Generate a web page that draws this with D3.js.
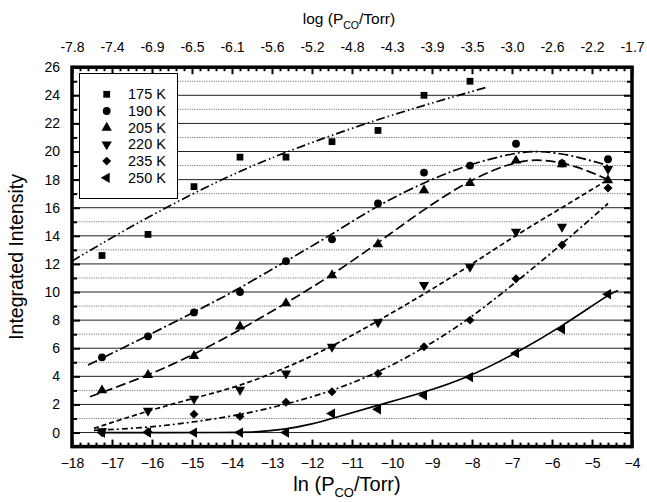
<!DOCTYPE html>
<html>
<head>
<meta charset="utf-8">
<script src="https://cdn.jsdelivr.net/npm/d3@7/dist/d3.min.js"></script>
<style>
  html, body { margin: 0; padding: 0; background: #fff; }
  svg { display: block; font-family: "Liberation Sans", Arial, sans-serif; }
</style>
</head>
<body>
<svg id="chart" width="647" height="502"></svg>
<script>
// ln(P_CO/Torr) at which spectra were recorded
const lnP = [-17.25, -16.1, -14.95, -13.8, -12.65, -11.5, -10.35, -9.2, -8.05, -6.9, -5.75, -4.6];

// integrated intensities per temperature
const k175 = [12.6, 14.1, 17.5, 19.6, 19.6, 20.7, 21.5, 24.0, 25.0];
const k190 = [5.35, 6.85, 8.55, 10.0, 12.2, 13.75, 16.3, 18.5, 19.0, 20.55, 19.15, 19.45];
const k205 = [3.0, 4.1, 5.45, 7.55, 9.2, 11.2, 13.4, 17.25, 17.75, 19.35, 19.1, 17.95];
const k220 = [0.1, 1.55, 2.4, 3.05, 4.2, 6.1, 7.85, 10.5, 11.8, 14.3, 14.65, 18.75];
const k235 = [0.0, 0.05, 1.3, 1.15, 2.15, 2.9, 4.2, 6.1, 8.0, 10.95, 13.35, 17.4];
const k250 = [0.0, 0.0, 0.0, 0.0, 0.0, 1.35, 1.65, 2.65, 3.95, 5.65, 7.35, 9.85];

// fitted curves, [ln P, intensity]
const fit175 = [[-18, 12.2], [-16.7, 14.4], [-15, 17.0], [-13.8, 18.6], [-12.9, 19.7], [-11, 21.7], [-9.2, 23.3], [-7.6, 24.6]];
const fit190 = [[-17.6, 4.8], [-16.1, 6.9], [-15, 8.5], [-14, 9.95], [-12.65, 12.2], [-11.5, 14.1], [-10.35, 16.2], [-9.05, 18.0], [-8.05, 19.1], [-6.9, 19.95], [-6.3, 20.05], [-5.5, 19.75], [-4.6, 19.0]];
const fit205 = [[-17.55, 2.55], [-16.1, 4.05], [-14.95, 5.55], [-13.8, 7.3], [-12.65, 9.2], [-11.5, 11.2], [-10.35, 13.5], [-9.2, 15.9], [-8.05, 18.0], [-6.9, 19.35], [-6.2, 19.45], [-5.4, 19.0], [-4.6, 18.0]];
const fit220 = [[-17.45, 0.3], [-16.1, 1.55], [-14.95, 2.45], [-13.8, 3.3], [-12.65, 4.6], [-11.5, 6.1], [-10.35, 7.95], [-9.1, 10.0], [-8.05, 11.9], [-6.9, 14.05], [-5.75, 16.0], [-4.6, 18.0]];
const fit235 = [[-17.45, 0.15], [-16.1, 0.35], [-14.95, 0.75], [-13.8, 1.25], [-12.65, 2.0], [-11.5, 2.95], [-10.35, 4.25], [-9.2, 6.0], [-8.05, 8.1], [-6.9, 10.7], [-5.75, 13.4], [-4.6, 16.3]];
const fit250 = [[-17.3, 0], [-14.2, 0], [-13.4, 0.03], [-12.7, 0.2], [-12, 0.6], [-11.5, 1.0], [-10.35, 1.95], [-9.2, 2.85], [-8.05, 3.97], [-6.9, 5.65], [-5.75, 7.55], [-4.6, 9.8], [-4.35, 10.1]];

const seriesNames = ["175 K", "190 K", "205 K", "220 K", "235 K", "250 K"];

// axis ticks
const xTicks = [-18, -17, -16, -15, -14, -13, -12, -11, -10, -9, -8, -7, -6, -5, -4];
const topTickLabels = ["-7.8", "-7.4", "-6.9", "-6.5", "-6.1", "-5.6", "-5.2", "-4.8", "-4.3", "-3.9", "-3.5", "-3.0", "-2.6", "-2.2", "-1.7"];
const yTicks = [0, 2, 4, 6, 8, 10, 12, 14, 16, 18, 20, 22, 24, 26];

const svg = d3.select("#chart");
const pLeft = 72, pRight = 632, pTop = 67.2, pBottom = 446.6;
const x = d3.scaleLinear().domain([-18, -4]).range([pLeft, pRight]);
const y = d3.scaleLinear().domain([-1, 26]).range([pBottom, pTop]);

const values = [k175, k190, k205, k220, k235, k250];
const fits = [fit175, fit190, fit205, fit220, fit235, fit250];
const dashes = ["9,3,1.5,3,1.5,3", "10,3,2,3", "10,4", "5,3", "6,3,2,3", null];
const symbols = [
  { type: d3.symbolSquare, size: 46, rot: 0 },
  { type: d3.symbolCircle, size: 48, rot: 0 },
  { type: d3.symbolTriangle, size: 46, rot: 0 },
  { type: d3.symbolTriangle, size: 46, rot: 180 },
  { type: d3.symbolSquare, size: 40, rot: 45 },
  { type: d3.symbolTriangle, size: 46, rot: -90 }
];

// grid: solid at even values, dotted at odd values
const gridVals = d3.range(0, 26);
svg.append("g").selectAll("line").data(gridVals).join("line")
  .attr("x1", pLeft).attr("x2", pRight)
  .attr("y1", d => y(d)).attr("y2", d => y(d))
  .attr("stroke", d => d % 2 === 0 ? "#222" : "#777")
  .attr("stroke-width", 1)
  .attr("stroke-dasharray", d => d % 2 === 0 ? null : "1.2,1.2");

svg.append("defs").append("clipPath").attr("id", "plotclip")
  .append("rect").attr("x", pLeft).attr("y", pTop).attr("width", pRight - pLeft).attr("height", pBottom - pTop);

// fitted curves
const line = d3.line().x(d => x(d[0])).y(d => y(d[1])).curve(d3.curveBasis);
const curves = svg.append("g").attr("clip-path", "url(#plotclip)");
fits.forEach((f, i) => {
  curves.append("path").datum(f)
    .attr("d", line)
    .attr("fill", "none")
    .attr("stroke", "#000")
    .attr("stroke-width", 1.7)
    .attr("stroke-dasharray", dashes[i]);
});

// measured points
const pts = svg.append("g");
values.forEach((vals, i) => {
  const s = symbols[i];
  const sym = d3.symbol().type(s.type).size(s.size);
  pts.selectAll(null).data(vals.map((v, j) => [lnP[j], v])).join("path")
    .attr("d", sym)
    .attr("fill", "#000")
    .attr("transform", d => `translate(${x(d[0])},${y(d[1])}) rotate(${s.rot})`);
});

// axes with inward ticks
const minorX = d3.range(-18, -4.0001, 0.2).filter(v => Math.abs(v - Math.round(v)) > 1e-6);
const axisStyle = g => {
  g.select(".domain").remove();
  g.selectAll(".tick line").attr("stroke", "#000").attr("stroke-width", 2);
  g.selectAll("text").attr("font-size", 14).attr("fill", "#000").attr("font-family", "Liberation Sans, Arial, sans-serif");
};

svg.append("g").attr("transform", `translate(0,${pBottom})`)
  .call(d3.axisBottom(x).tickValues(xTicks).tickSize(-7).tickPadding(11).tickFormat(d3.format("d")))
  .call(axisStyle);
svg.append("g").attr("transform", `translate(0,${pBottom})`)
  .call(d3.axisBottom(x).tickValues(minorX).tickSize(-4).tickFormat(""))
  .call(axisStyle);

svg.append("g").attr("transform", `translate(0,${pTop})`)
  .call(d3.axisTop(x).tickValues(xTicks).tickSize(-7).tickPadding(15).tickFormat((d, i) => topTickLabels[i]))
  .call(axisStyle);
svg.append("g").attr("transform", `translate(0,${pTop})`)
  .call(d3.axisTop(x).tickValues(minorX).tickSize(-4).tickFormat(""))
  .call(axisStyle);

const oddY = d3.range(-1, 26, 2);
svg.append("g").attr("transform", `translate(${pLeft},0)`)
  .call(d3.axisLeft(y).tickValues(yTicks).tickSize(-8).tickPadding(12).tickFormat(d3.format("d")))
  .call(axisStyle);
svg.append("g").attr("transform", `translate(${pLeft},0)`)
  .call(d3.axisLeft(y).tickValues(oddY).tickSize(-5).tickFormat(""))
  .call(axisStyle);
svg.append("g").attr("transform", `translate(${pRight},0)`)
  .call(d3.axisRight(y).tickValues(yTicks).tickSize(-8).tickFormat(""))
  .call(axisStyle);
svg.append("g").attr("transform", `translate(${pRight},0)`)
  .call(d3.axisRight(y).tickValues(oddY).tickSize(-5).tickFormat(""))
  .call(axisStyle);

// frame
svg.append("rect")
  .attr("x", pLeft).attr("y", pTop)
  .attr("width", pRight - pLeft).attr("height", pBottom - pTop)
  .attr("fill", "none").attr("stroke", "#000").attr("stroke-width", 3.5);

// axis titles
const xTitle = svg.append("text")
  .attr("x", (pLeft + pRight) / 2 - 5).attr("y", 491)
  .attr("text-anchor", "middle").attr("font-size", 20);
xTitle.append("tspan").text("ln (P");
xTitle.append("tspan").attr("font-size", 13).attr("dy", 6).text("CO");
xTitle.append("tspan").attr("dy", -6).text("/Torr)");

const topTitle = svg.append("text")
  .attr("x", (pLeft + pRight) / 2 - 3).attr("y", 24)
  .attr("text-anchor", "middle").attr("font-size", 15.5);
topTitle.append("tspan").text("log (P");
topTitle.append("tspan").attr("font-size", 10.5).attr("dy", 4.5).text("CO");
topTitle.append("tspan").attr("dy", -4.5).text("/Torr)");

svg.append("text")
  .attr("transform", `translate(23,${(pTop + pBottom) / 2}) rotate(-90)`)
  .attr("text-anchor", "middle").attr("font-size", 19.5)
  .text("Integrated Intensity");

// legend
const lg = svg.append("g");
lg.append("rect").attr("x", 79.5).attr("y", 73.5).attr("width", 98).attr("height", 125)
  .attr("fill", "#fff").attr("stroke", "#000").attr("stroke-width", 1);
seriesNames.forEach((name, i) => {
  const cy = 94.3 + i * 16.7;
  const s = symbols[i];
  lg.append("path")
    .attr("d", d3.symbol().type(s.type).size(s.size)())
    .attr("fill", "#000")
    .attr("transform", `translate(106.7,${cy}) rotate(${s.rot})`);
  lg.append("text").attr("x", 128).attr("y", cy + 5)
    .attr("font-size", 14.5).text(name);
});
</script>
</body>
</html>
